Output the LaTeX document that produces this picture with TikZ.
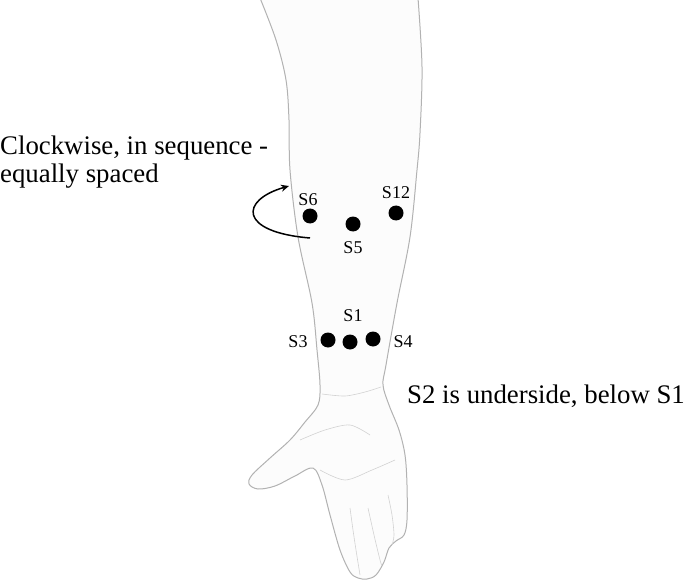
\documentclass[tikz,border=0pt]{standalone}
\usepackage{fontspec}
\setmainfont{Liberation Serif}
\usetikzlibrary{arrows.meta}
\begin{document}
\begin{tikzpicture}[x=1pt,y=-1pt,
  outline/.style={draw=gray!60,line width=1pt,line join=round},
  inner/.style={draw=gray!35,line width=0.6pt},
  site/.style={circle,fill=black,minimum size=15pt,inner sep=0pt},
  lab/.style={font=\fontsize{18}{21}\selectfont,inner sep=0pt,anchor=base},
  big/.style={font=\fontsize{26.8}{30}\selectfont,inner sep=0pt,anchor=base west}]
\useasboundingbox (0,0) rectangle (685,580);
% arm outline
\path[outline,fill=gray!2] plot[smooth,tension=0.55] coordinates {
 (260,-2) (276,40) (286,80) (289,120) (290,170) (298,237) (312,303) (317,350) (320,385)
 (318,405) (305,422) (290,440) (270,458) (252,475) (249,484) (258,489) (275,486) (295,476) (313,468)
 (322,485) (330,515) (340,550) (350,572) (358,578) (367,579) (376,575) (384,562) (389,548) (396,541) (404,535) (407,520)
 (407,485) (405,455) (399,430) (389,405) (383,385) (386,365) (397,303) (410,237) (417,170) (420,133) (422,67) (418,-2)};
% wrist crease
\draw[inner] plot[smooth] coordinates {(322,394) (345,396) (365,392) (381,387)};
% finger separations
\draw[inner] plot[smooth] coordinates {(350,508) (353,530) (356,550) (360,575)};
\draw[inner] plot[smooth] coordinates {(368,508) (374,535) (380,560) (382,566)};
\draw[inner] plot[smooth] coordinates {(388,495) (392,515) (394,535) (392,545)};
% palm lines
\draw[inner] plot[smooth] coordinates {(300,440) (325,430) (350,425) (370,435)};
\draw[inner] plot[smooth] coordinates {(320,470) (345,480) (372,470) (395,460)};
% sites
\node[site] (s6) at (310,216) {};
\node[site] (s5) at (353,224) {};
\node[site] (s12) at (396,213) {};
\node[site] (s3) at (328,340) {};
\node[site] (s1) at (350,342) {};
\node[site] (s4) at (373,339) {};
\node[lab] (l6) at (308,205) {S6};
\node[lab] (l5) at (353,253) {S5};
\node[lab] (l12) at (396,199) {S12};
\node[lab] (l1) at (353,321) {S1};
\node[lab] (l3) at (298,347) {S3};
\node[lab] (l4) at (403,347) {S4};
% arrow
\coordinate (a0) at (310,238);
\coordinate (a1) at (289,186);
\draw[line width=1.5pt,-{Stealth[length=8pt,width=7pt]}] (a0) .. controls (238,232) and (240,200) .. (a1);
% texts
\node[big] (t1) at (0,155) {Clockwise, in sequence -};
\node[big] (t2) at (0,183) {equally spaced};
\node[big] (t3) at (407,403) {S2 is underside, below S1};
\end{tikzpicture}
\end{document}
